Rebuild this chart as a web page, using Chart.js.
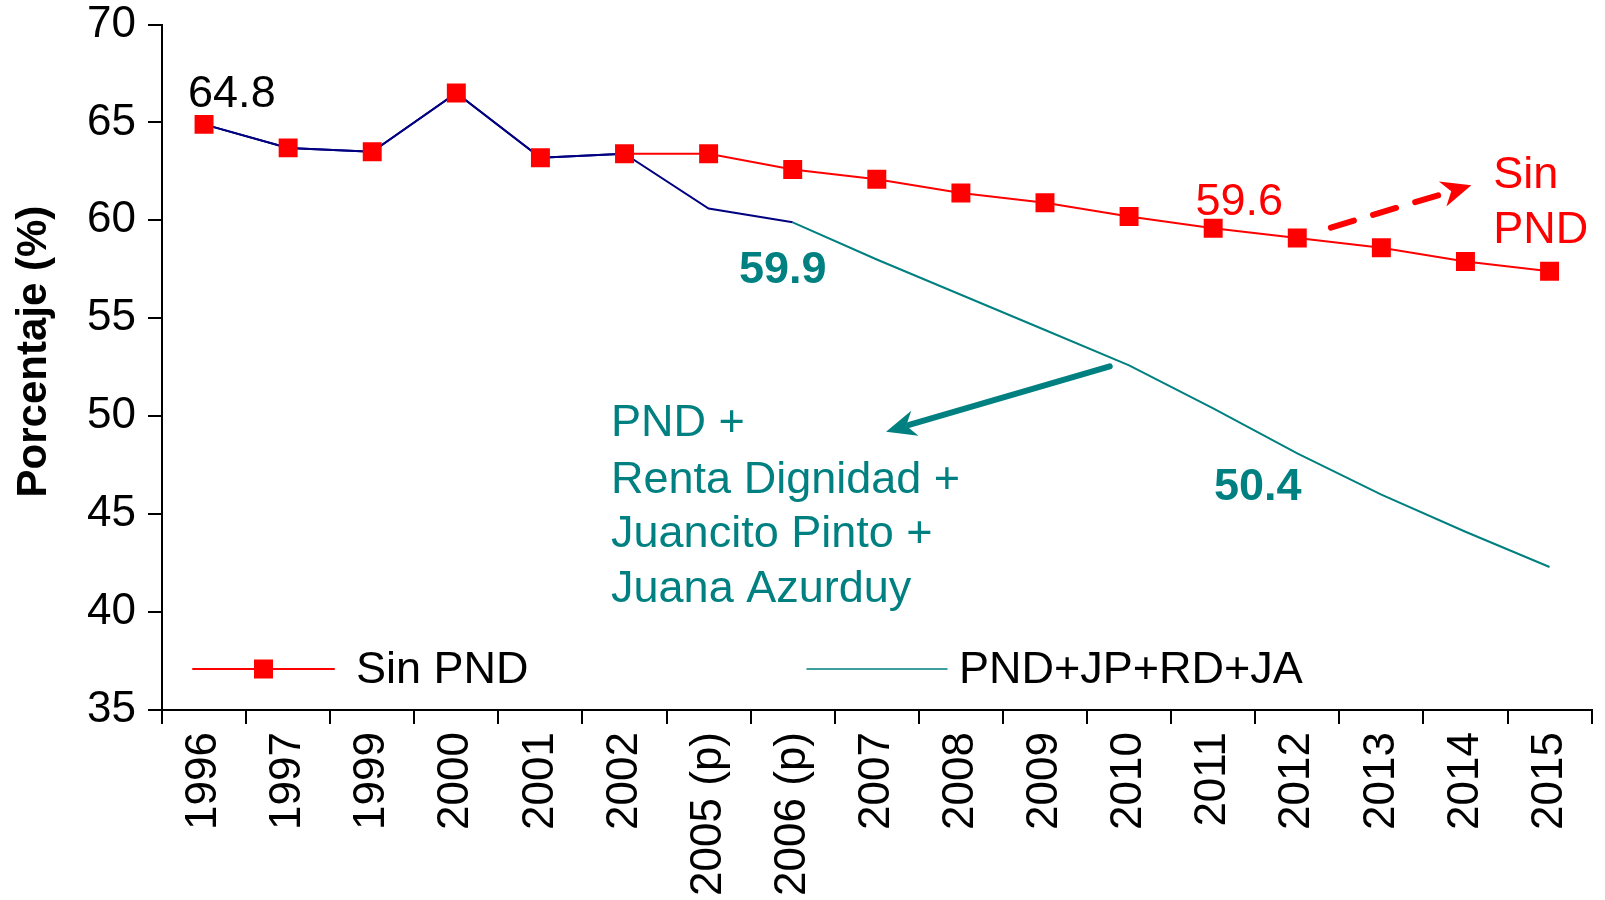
<!DOCTYPE html>
<html>
<head>
<meta charset="utf-8">
<script src="https://cdn.jsdelivr.net/npm/chart.js@4/dist/chart.umd.min.js"></script>
<style>
html,body{margin:0;padding:0;background:#fff;}
#wrap{width:1605px;height:900px;position:relative;}
</style>
</head>
<body>
<div id="wrap"><canvas id="c" width="1605" height="900"></canvas></div>
<script>
// ---- data ----
const categories = ['1996','1997','1999','2000','2001','2002','2005 (p)','2006 (p)','2007','2008','2009','2010','2011','2012','2013','2014','2015'];
const sinPND     = [64.9, 63.7, 63.5, 66.5, 63.2, 63.4, 63.4, 62.6, 62.1, 61.4, 60.9, 60.2, 59.6, 59.1, 58.6, 57.9, 57.4];
const pndTotal   = [64.9, 63.7, 63.5, 66.5, 63.2, 63.4, 60.6, 59.9, 58.0, 56.2, 54.4, 52.6, 50.4, 48.1, 46.0, 44.1, 42.3];
const seriesNames = ['Sin PND', 'PND+JP+RD+JA'];
const yMin = 35, yMax = 70, yStep = 5;
const yTitle = 'Porcentaje (%)';
// annotations: text, anchor in data units (category index, value)
const notes = [
  {text:'64.8', i:-0.19, v:65.78, color:'#000000', bold:false},
  {text:'59.6', i:11.79, v:60.28, color:'#FF0000', bold:false},
  {text:'59.9', i:6.36,  v:56.80, color:'#008080', bold:true},
  {text:'50.4', i:12.01, v:45.74, color:'#008080', bold:true},
  {text:'Sin',  i:15.33, v:61.66, color:'#FF0000', bold:false},
  {text:'PND',  i:15.33, v:58.85, color:'#FF0000', bold:false},
  {text:'PND +',            i:4.84, v:49.01, color:'#008080', bold:false},
  {text:'Renta Dignidad +', i:4.84, v:46.08, color:'#008080', bold:false},
  {text:'Juancito Pinto +', i:4.84, v:43.31, color:'#008080', bold:false},
  {text:'Juana Azurduy',    i:4.84, v:40.49, color:'#008080', bold:false}
];
const arrows = [
  {from:[13.40, 59.63], to:[15.07, 61.79], color:'#FF0000', dashed:true},
  {from:[10.77, 52.55], to:[8.11, 49.21], color:'#008080', dashed:false}
];

const RED = '#FF0000', NAVY = '#000080', TEAL = '#008080';
const FONT = '"Liberation Sans", Arial, Helvetica, sans-serif';

const annotPlugin = {
  id: 'annot',
  afterDatasetsDraw(chart) {
    const ctx = chart.ctx;
    const xs = chart.scales.x, ys = chart.scales.y;
    const px = i => xs.getPixelForValue(0) + i * (xs.getPixelForValue(1) - xs.getPixelForValue(0));
    const ca = chart.chartArea;
    ctx.save();
    // y axis title
    ctx.save();
    ctx.translate(34, ys.getPixelForValue(53.3));
    ctx.rotate(-Math.PI / 2);
    ctx.font = 'bold 42px ' + FONT;
    ctx.fillStyle = '#000';
    ctx.textAlign = 'center';
    ctx.textBaseline = 'middle';
    ctx.fillText(yTitle, 0, 0);
    ctx.restore();
    // text notes
    notes.forEach(n => {
      ctx.font = (n.bold ? 'bold ' : '') + '45px ' + FONT;
      ctx.fillStyle = n.color;
      ctx.textAlign = 'left';
      ctx.textBaseline = 'alphabetic';
      ctx.fillText(n.text, px(n.i), ys.getPixelForValue(n.v));
    });
    // arrows
    arrows.forEach(a => {
      const x1 = px(a.from[0]), y1 = ys.getPixelForValue(a.from[1]);
      const x2 = px(a.to[0]), y2 = ys.getPixelForValue(a.to[1]);
      const ang = Math.atan2(y2 - y1, x2 - x1);
      const headLen = 30, headW = 13;
      const bx = x2 - Math.cos(ang) * (headLen - 6), by = y2 - Math.sin(ang) * (headLen - 6);
      ctx.strokeStyle = a.color;
      ctx.fillStyle = a.color;
      ctx.lineWidth = 6;
      ctx.lineCap = 'round';
      ctx.setLineDash(a.dashed ? [24, 20] : []);
      ctx.beginPath();
      ctx.moveTo(x1, y1);
      ctx.lineTo(bx, by);
      ctx.stroke();
      ctx.setLineDash([]);
      const cx = Math.cos(ang), sx = Math.sin(ang);
      const baseX = x2 - cx * headLen, baseY = y2 - sx * headLen;
      const notchX = x2 - cx * headLen * 0.7, notchY = y2 - sx * headLen * 0.7;
      ctx.beginPath();
      ctx.moveTo(x2, y2);
      ctx.lineTo(baseX - sx * headW, baseY + cx * headW);
      ctx.lineTo(notchX, notchY);
      ctx.lineTo(baseX + sx * headW, baseY - cx * headW);
      ctx.closePath();
      ctx.fill();
    });
    // legend (inside plot area, bottom)
    const ly = ca.bottom - 41;
    const tb = ca.bottom - 27;
    ctx.strokeStyle = RED; ctx.lineWidth = 2;
    ctx.beginPath(); ctx.moveTo(ca.left + 31, ly); ctx.lineTo(ca.left + 172, ly); ctx.stroke();
    ctx.fillStyle = RED;
    ctx.fillRect(ca.left + 101.5 - 9.5, ly - 9.5, 19, 19);
    ctx.fillStyle = '#000';
    ctx.font = '45px ' + FONT;
    ctx.textAlign = 'left'; ctx.textBaseline = 'alphabetic';
    ctx.fillText(seriesNames[0], ca.left + 194, tb);
    ctx.strokeStyle = TEAL; ctx.lineWidth = 1.5;
    ctx.beginPath(); ctx.moveTo(ca.left + 645, ly); ctx.lineTo(ca.left + 785, ly); ctx.stroke();
    ctx.fillText(seriesNames[1], ca.left + 797, tb);
    ctx.restore();
  }
};

new Chart(document.getElementById('c'), {
  type: 'line',
  data: {
    labels: categories,
    datasets: [
      {
        label: seriesNames[0],
        data: sinPND,
        borderColor: RED,
        backgroundColor: RED,
        borderWidth: 2,
        pointStyle: 'rect',
        pointRadius: 13.4,
        pointHoverRadius: 13.4,
        pointBorderWidth: 0,
        pointBackgroundColor: RED,
        tension: 0,
        order: 0,
        segment: { borderColor: c => c.p0DataIndex < 5 ? NAVY : RED }
      },
      {
        label: seriesNames[1],
        data: pndTotal,
        borderColor: TEAL,
        backgroundColor: TEAL,
        borderWidth: 2,
        pointRadius: 0,
        pointHoverRadius: 0,
        tension: 0,
        order: 1,
        segment: { borderColor: c => c.p0DataIndex < 7 ? NAVY : TEAL }
      }
    ]
  },
  options: {
    responsive: false,
    animation: false,
    devicePixelRatio: 1,
    layout: { padding: { top: 24.5, right: 12, left: 0, bottom: 0 } },
    plugins: {
      legend: { display: false },
      tooltip: { enabled: false },
      title: { display: false }
    },
    scales: {
      x: {
        type: 'category',
        offset: true,
        grid: { offset: true, drawOnChartArea: false, drawTicks: true, tickLength: 14, color: '#000', lineWidth: 2 },
        border: { display: true, color: '#000', width: 2 },
        ticks: {
          autoSkip: false, minRotation: 90, maxRotation: 90, padding: 8, color: '#000',
          font: { family: FONT, size: 44, lineHeight: 1 }
        },
        afterFit: s => { s.height = 190; }
      },
      y: {
        min: yMin, max: yMax,
        grid: { drawOnChartArea: false, drawTicks: true, tickLength: 14, color: '#000', lineWidth: 2 },
        border: { display: true, color: '#000', width: 2 },
        ticks: { stepSize: yStep, padding: 12, color: '#000', font: { family: FONT, size: 44, lineHeight: 1 } },
        title: { display: false },
        afterFit: s => { s.width = 162; s.paddingTop = 0; s.paddingBottom = 0; }
      }
    }
  },
  plugins: [annotPlugin]
});
</script>
</body>
</html>
